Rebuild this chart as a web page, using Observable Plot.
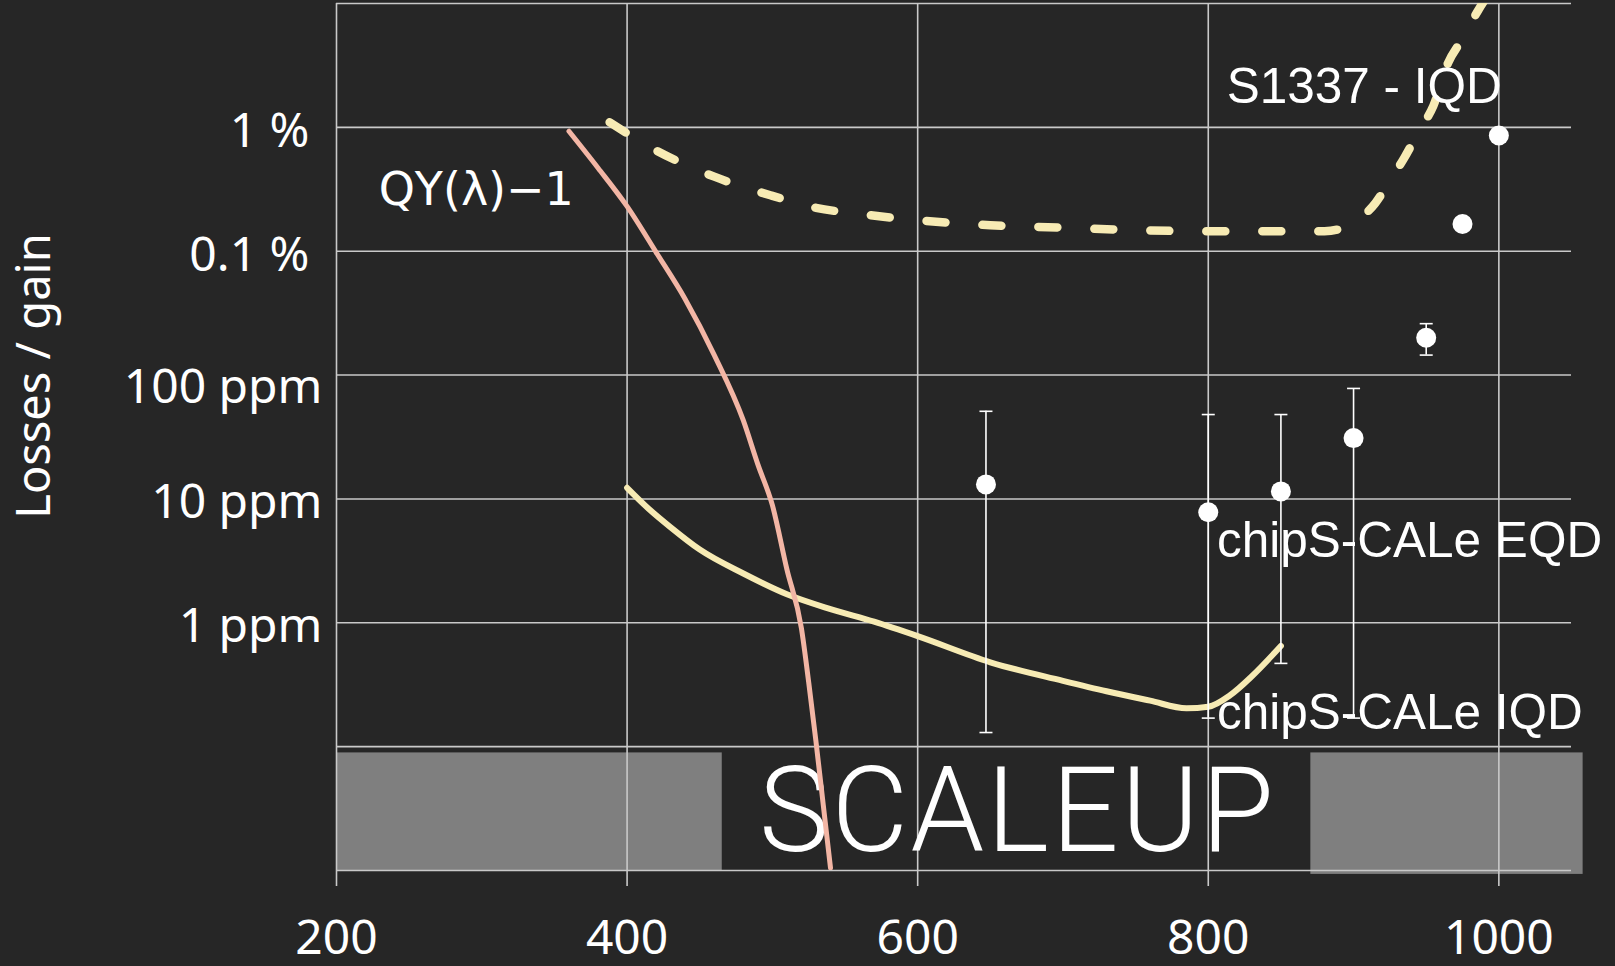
<!DOCTYPE html>
<html>
<head>
<meta charset="utf-8">
<script src="https://cdn.jsdelivr.net/npm/d3@7"></script>
<script src="https://cdn.jsdelivr.net/npm/@observablehq/plot@0.6"></script>
<style>
  html, body { margin: 0; padding: 0; background: #262626; }
  #chart svg { display: block; }
</style>
</head>
<body>
<div id="chart"></div>
<script>
// Quantum-yield deviation QY(λ)−1 (nm, fraction)
const qyWavelength = [360, 380, 400, 420, 440, 460, 480, 490, 500, 510, 520, 525, 530, 535, 540];
const qyLoss = [9.3e-3, 4.7e-3, 2.3e-3, 9.8e-4, 4.1e-4, 1.45e-4, 4.3e-5, 1.9e-5, 8.9e-6, 2.7e-6, 9.0e-7, 3.3e-7, 1.1e-7, 3.4e-8, 1.05e-8];

// chipS-CALe IQD loss curve
const iqdWavelength = [400, 415, 430, 450, 480, 510, 540, 570, 600, 650, 700, 730, 760, 785, 800, 815, 830, 850];
const iqdLoss = [1.23e-5, 8.3e-6, 5.9e-6, 3.9e-6, 2.5e-6, 1.7e-6, 1.29e-6, 1.02e-6, 7.8e-7, 4.8e-7, 3.4e-7, 2.8e-7, 2.35e-7, 2.04e-7, 2.1e-7, 2.6e-7, 3.7e-7, 6.5e-7];

// S1337 photodiode IQD loss curve
const s1337Wavelength = [388, 420, 440, 460, 480, 500, 530, 560, 600, 650, 700, 750, 800, 880, 895, 905, 915, 925, 935, 945, 955, 965, 975, 985, 995];
const s1337Loss = [1.1e-2, 6.5e-3, 5.0e-3, 4.0e-3, 3.3e-3, 2.8e-3, 2.24e-3, 2.0e-3, 1.78e-3, 1.62e-3, 1.55e-3, 1.48e-3, 1.45e-3, 1.45e-3, 1.58e-3, 1.86e-3, 2.45e-3, 3.7e-3, 5.7e-3, 9.3e-3, 1.5e-2, 3.3e-2, 5.2e-2, 8.5e-2, 0.13];

// chipS-CALe EQD measurements with uncertainty
const eqdWavelength = [647, 800, 850, 900, 950, 975, 1000];
const eqdLoss = [1.31e-5, 7.8e-6, 1.15e-5, 3.1e-5, 2.0e-4, 1.66e-3, 8.6e-3];
const eqdLow = [1.3e-7, 1.7e-7, 4.7e-7, 1.7e-7, 1.45e-4, null, null];
const eqdHigh = [5.1e-5, 4.8e-5, 4.8e-5, 7.8e-5, 2.6e-4, null, null];

// Axes
const xTicks = [200, 400, 600, 800, 1000];
const yDecades = [1e-8, 1e-7, 1e-6, 1e-5, 1e-4, 1e-3, 1e-2, 1e-1];
const yTickValues = [1e-2, 1e-3, 1e-4, 1e-5, 1e-6];
const yTickLabels = ["1 %", "0.1 %", "100 ppm", "10 ppm", "1 ppm"];

const qy = qyWavelength.map((x, i) => ({x, y: qyLoss[i]}));
const iqd = iqdWavelength.map((x, i) => ({x, y: iqdLoss[i]}));
const s1337 = s1337Wavelength.map((x, i) => ({x, y: s1337Loss[i]}));
const eqd = eqdWavelength.map((x, i) => ({x, y: eqdLoss[i], lo: eqdLow[i], hi: eqdHigh[i]}));
const eqdBars = eqd.filter(d => d.lo != null);

const yLabel = v => yTickLabels[yTickValues.indexOf(v)];

const gridColor = "#c9c9c9";
const cream = "#f7ebb4";
const salmon = "#f3b6a5";
const sans = "'Liberation Sans', Arial, sans-serif";

// Horizontal error-bar cap
const capSymbol = {
  draw(context, size) {
    const w = Math.sqrt(size / Math.PI);
    context.moveTo(-w, 0);
    context.lineTo(w, 0);
  }
};

// Logo banner along the bottom of the frame
const logoPanels = [
  {x1: 200, x2: 465.5, y1: 1e-8, y2: 8.9e-8},
  {x1: 870.6, x2: 1058, y1: 9.3e-9, y2: 8.9e-8}
];

const chart = Plot.plot({
  width: 1615,
  height: 966,
  marginLeft: 336,
  marginRight: 44,
  marginTop: 3,
  marginBottom: 96,
  style: {background: "#262626", color: "white", fontFamily: "'Noto Sans', sans-serif", overflow: "visible"},
  x: {domain: [200, 1050]},
  y: {type: "log", domain: [1e-8, 1e-1]},
  marks: [
    Plot.rect(logoPanels, {x1: "x1", x2: "x2", y1: "y1", y2: "y2", fill: "#7f7f7f"}),
    Plot.ruleY(yDecades, {y: d => d, stroke: gridColor, strokeWidth: 1.6}),
    Plot.ruleX(xTicks, {x: d => d, stroke: gridColor, strokeWidth: 1.6}),
    Plot.text(["SCALEUP"], {
      x: 668, y: 2.9e-8, text: d => d,
      fontFamily: "Roboto, 'Noto Sans', sans-serif", fontWeight: 300, fontSize: 118, fill: "white"
    }),
    Plot.line(s1337, {x: "x", y: "y", stroke: cream, strokeWidth: 8.5, strokeDasharray: "19,37", strokeLinecap: "round", curve: "monotone-x", clip: true}),
    Plot.line(iqd, {x: "x", y: "y", stroke: cream, strokeWidth: 6, strokeLinecap: "round", curve: "monotone-x"}),
    Plot.line(qy, {x: "x", y: "y", stroke: salmon, strokeWidth: 5, strokeLinecap: "round", curve: "monotone-x", clip: true}),
    Plot.ruleX(eqdBars, {x: "x", y1: "lo", y2: "hi", stroke: "white", strokeWidth: 1.6}),
    Plot.dot(eqdBars, {x: "x", y: "lo", symbol: capSymbol, r: 6.5, stroke: "white", strokeWidth: 1.6, fill: "none"}),
    Plot.dot(eqdBars, {x: "x", y: "hi", symbol: capSymbol, r: 6.5, stroke: "white", strokeWidth: 1.6, fill: "none"}),
    Plot.dot(eqd, {x: "x", y: "y", r: 10, fill: "white"}),
    Plot.text(["QY(λ)−1"], {x: 229, y: 3.08e-3, text: d => d, textAnchor: "start", fontSize: 46, fill: "white", fontFamily: "'DejaVu Sans', sans-serif"}),
    Plot.text(["S1337 - IQD"], {x: 812.7, y: 2.12e-2, text: d => d, textAnchor: "start", fontSize: 49.5, fill: "white", fontFamily: sans}),
    Plot.text(["chipS-CALe EQD"], {x: 806, y: 4.59e-6, text: d => d, textAnchor: "start", fontSize: 49.5, fill: "white", fontFamily: sans}),
    Plot.text(["chipS-CALe IQD"], {x: 806, y: 1.86e-7, text: d => d, textAnchor: "start", fontSize: 49.5, fill: "white", fontFamily: sans}),
    Plot.text(["Losses / gain"], {frameAnchor: "left", textAnchor: "middle", rotate: -90, dx: -302, dy: -61, text: d => d, fontSize: 47, fill: "white"}),
    Plot.axisX(xTicks, {tickSize: 16, tickPadding: 33, stroke: gridColor, strokeWidth: 1.6, fill: "white", fontSize: 48, tickFormat: d => String(d), label: null}),
    Plot.axisY([1e-2, 1e-3], {tickSize: 0, tickPadding: 27, dy: 4, fill: "white", fontSize: 48, tickFormat: yLabel, label: null}),
    Plot.axisY([1e-4], {tickSize: 0, tickPadding: 14, dy: 13, fill: "white", fontSize: 48, tickFormat: yLabel, label: null}),
    Plot.axisY([1e-5, 1e-6], {tickSize: 0, tickPadding: 14, dy: 4, fill: "white", fontSize: 48, tickFormat: yLabel, label: null})
  ]
});

// Spread the banner lettering across the logo panel
d3.select(chart).selectAll("text")
  .filter(function() { return this.textContent === "SCALEUP"; })
  .attr("textLength", 515)
  .attr("lengthAdjust", "spacing");

document.getElementById("chart").appendChild(chart);
</script>
</body>
</html>
